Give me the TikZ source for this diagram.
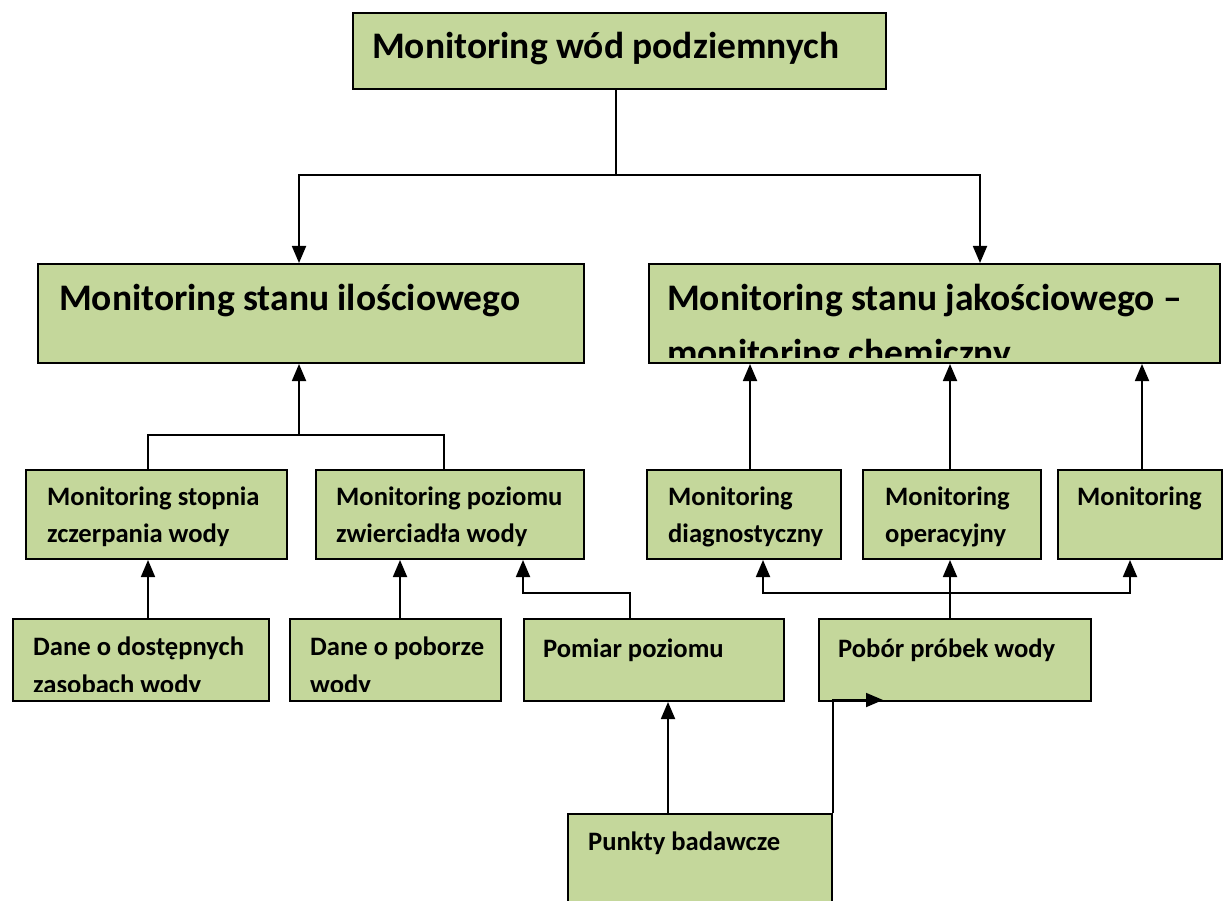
\documentclass[tikz,border=0pt]{standalone}
\usepackage{fontspec}
\setmainfont{Carlito}
\usetikzlibrary{arrows.meta,positioning,calc}

\definecolor{zielen}{HTML}{C4D79B}
\tikzset{
    pole/.style={draw, line width=2pt, fill=zielen, inner sep=0pt, anchor=north west},
    duzy/.style={inner sep=0pt, anchor=base west, font=\fontsize{37.5}{44}\selectfont\bfseries},
    maly/.style={inner sep=0pt, anchor=base west, font=\fontsize{26.6}{32}\selectfont\bfseries},
    lin/.style={line width=1.8pt},
    pil/.style={line width=1.8pt, -{Triangle[width=14pt,length=17pt]}}
}

\begin{document}
\begin{tikzpicture}[x=1pt, y=-1pt]
\useasboundingbox (0,0) rectangle (1223,901);

% gora
\node[pole, minimum width=533, minimum height=76] (wody) at (352,12) {};
\node[duzy] (t-wody) at (372,59) {Monitoring wód podziemnych};

% drugi poziom
\node[pole, minimum width=546, minimum height=99] (ilosc) at (37,263) {};
\node[duzy] (t-ilosc) at (59,310) {Monitoring stanu ilościowego};
\node[pole, minimum width=571, minimum height=99] (jakosc) at (648,263) {};
\begin{scope}
    \clip (jakosc.north west) rectangle ($(jakosc.south east)+(0,-7)$);
    \node[duzy] (t-jakosc) at (667,310) {Monitoring stanu jakościowego –};
    \node[duzy] (t-jakosc2) at (667,365) {monitoring chemiczny};
\end{scope}

% trzeci poziom
\node[pole, minimum width=261, minimum height=89] (stopien) at (25,469) {};
\node[maly] (t-stopien) at (47,505) {Monitoring stopnia};
\node[maly] (t-stopien2) at (47,542) {zczerpania wody};
\node[pole, minimum width=268, minimum height=89] (zwierc) at (315,469) {};
\node[maly] (t-zwierc) at (336,505) {Monitoring poziomu};
\node[maly] (t-zwierc2) at (336,542) {zwierciadła wody};
\node[pole, minimum width=194, minimum height=89] (diagn) at (646,469) {};
\node[maly] (t-diagn) at (668,505) {Monitoring};
\node[maly] (t-diagn2) at (668,542) {diagnostyczny};
\node[pole, minimum width=178, minimum height=89] (operac) at (862,469) {};
\node[maly] (t-operac) at (885,505) {Monitoring};
\node[maly] (t-operac2) at (885,542) {operacyjny};
\node[pole, minimum width=164, minimum height=89] (monit) at (1057,469) {};
\node[maly] (t-monit) at (1077,505) {Monitoring};

% czwarty poziom
\node[pole, minimum width=256, minimum height=82] (zasoby) at (12,618) {};
\begin{scope}
    \clip (zasoby.north west) rectangle ($(zasoby.south east)+(0,-11)$);
    \node[maly] (t-zasoby) at (33,655) {Dane o dostępnych};
    \node[maly] (t-zasoby2) at (33,693) {zasobach wody};
\end{scope}
\node[pole, minimum width=211, minimum height=82] (pobor) at (289,618) {};
\begin{scope}
    \clip (pobor.north west) rectangle ($(pobor.south east)+(0,-11)$);
    \node[maly] (t-pobor) at (310,655) {Dane o poborze};
    \node[maly] (t-pobor2) at (310,693) {wody};
\end{scope}
\node[pole, minimum width=260, minimum height=82] (pomiar) at (523,618) {};
\node[maly] (t-pomiar) at (543,657) {Pomiar poziomu};
\node[pole, minimum width=272, minimum height=82] (probki) at (818,618) {};
\node[maly] (t-probki) at (838,657) {Pobór próbek wody};

% dol
\node[pole, minimum width=264, minimum height=110] (punkty) at (567,813) {};
\node[maly] (t-punkty) at (588,850) {Punkty badawcze};

% punkty pomocnicze
\coordinate (gT) at (616,175);
\coordinate (gL) at (299,175);
\coordinate (gR) at (980,175);
\coordinate (hL) at (299,435);
\coordinate (hA) at (148,435);
\coordinate (hB) at (444,435);
\coordinate (xC) at (750,0);
\coordinate (xD) at (950,0);
\coordinate (xE) at (1142,0);
\coordinate (xP) at (400,0);
\coordinate (xR) at (668,0);
\coordinate (p1) at (630,593);
\coordinate (p2) at (523,593);
\coordinate (q1) at (763,593);
\coordinate (q2) at (1130,593);
\coordinate (r1) at (883,700);

% polaczenia
\draw[lin] (gT |- wody.south) -- (gT);
\draw[pil] (gT) -- (gL) -- (gL |- ilosc.north);
\draw[pil] (gT) -- (gR) -- (gR |- jakosc.north);

\draw[lin] (hA |- stopien.north) -- (hA) -- (hB) -- (hB |- zwierc.north);
\draw[pil] (hL) -- (hL |- ilosc.south);

\draw[pil] (xC |- diagn.north) -- (xC |- jakosc.south);
\draw[pil] (xD |- operac.north) -- (xD |- jakosc.south);
\draw[pil] (xE |- monit.north) -- (xE |- jakosc.south);

\draw[pil] (hA |- zasoby.north) -- (hA |- stopien.south);
\draw[pil] (xP |- pobor.north) -- (xP |- zwierc.south);
\draw[pil] (p1 |- pomiar.north) -- (p1) -- (p2) -- (p2 |- zwierc.south);

\draw[pil] (xD |- probki.north) -- (xD |- operac.south);
\draw[pil] (xD |- q1) -- (q1) -- (q1 |- diagn.south);
\draw[pil] (xD |- q1) -- (q2) -- (q2 |- monit.south);

\draw[pil] (xR |- punkty.north) -- (xR |- pomiar.south);
\draw[pil] (punkty.north east) |- (r1);
\end{tikzpicture}
\end{document}
